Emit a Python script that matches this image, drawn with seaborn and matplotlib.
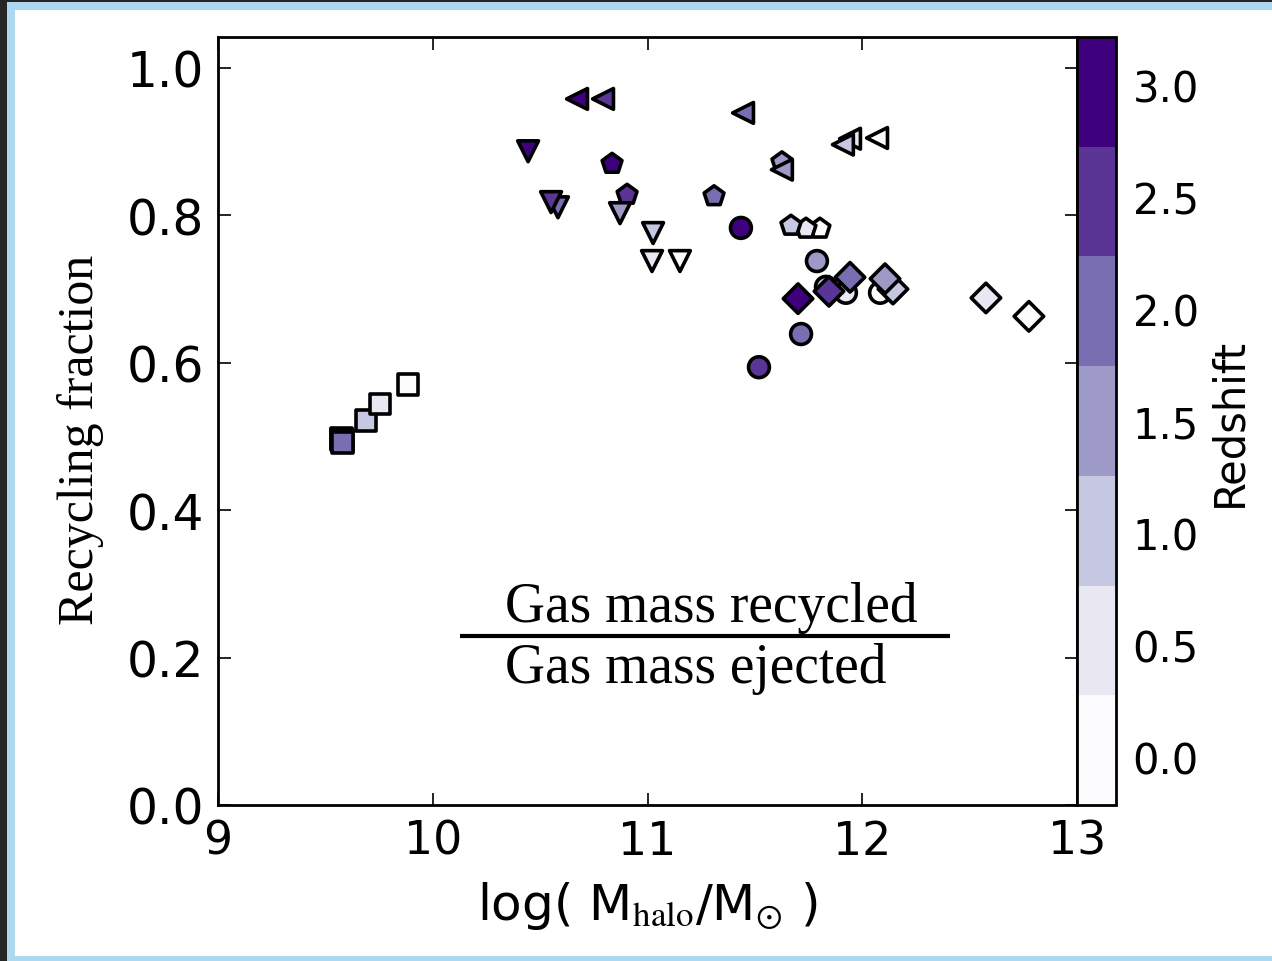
import numpy as np
import pandas as pd
import matplotlib
matplotlib.use("Agg")
import matplotlib.pyplot as plt
import seaborn as sns
from matplotlib.colors import Normalize
from matplotlib.cm import ScalarMappable
from matplotlib.patches import Rectangle

# ---------------- data (log halo mass, recycling fraction, redshift) ----------------
square_mass = [9.575, 9.575, 9.578, 9.578, 9.689, 9.754, 9.885]
square_frac = [0.497, 0.496, 0.494, 0.492, 0.522, 0.544, 0.570]
square_z    = [3.0, 2.5, 1.5, 2.0, 1.0, 0.5, 0.0]

circle_mass = [12.083, 11.924, 11.831, 11.789, 11.715, 11.519, 11.435]
circle_frac = [0.695, 0.695, 0.703, 0.738, 0.639, 0.594, 0.783]
circle_z    = [0.0, 0.5, 1.0, 1.5, 2.0, 2.5, 3.0]

pent_mass = [11.803, 11.738, 11.668, 11.626, 11.310, 10.905, 10.835]
pent_frac = [0.782, 0.782, 0.786, 0.872, 0.826, 0.828, 0.870]
pent_z    = [0.0, 0.5, 1.0, 1.5, 2.0, 2.5, 3.0]

down_mass = [11.151, 11.021, 11.026, 10.872, 10.583, 10.551, 10.444]
down_frac = [0.738, 0.738, 0.776, 0.803, 0.811, 0.818, 0.887]
down_z    = [0.0, 0.5, 1.0, 1.5, 2.0, 2.5, 3.0]

left_mass = [12.069, 11.943, 11.910, 11.626, 11.445, 10.793, 10.672]
left_frac = [0.905, 0.904, 0.896, 0.862, 0.939, 0.958, 0.958]
left_z    = [0.0, 0.5, 1.0, 1.5, 2.0, 2.5, 3.0]

diam_mass = [12.776, 12.576, 12.143, 12.106, 11.943, 11.845, 11.701]
diam_frac = [0.663, 0.688, 0.700, 0.714, 0.716, 0.697, 0.687]
diam_z    = [0.0, 0.5, 1.0, 1.5, 2.0, 2.5, 3.0]

cbar_ticks = [0.0, 0.5, 1.0, 1.5, 2.0, 2.5, 3.0]
x_ticks = [9, 10, 11, 12, 13]
y_ticks = [0.0, 0.2, 0.4, 0.6, 0.8, 1.0]

groups = [
    ("s", square_mass, square_frac, square_z),
    ("o", circle_mass, circle_frac, circle_z),
    ("p", pent_mass, pent_frac, pent_z),
    ("v", down_mass, down_frac, down_z),
    ("<", left_mass, left_frac, left_z),
    ("D", diam_mass, diam_frac, diam_z),
]

# ---------------- style ----------------
sns.set_theme(style="ticks")
plt.rcParams["font.family"] = ["DejaVu Sans"]
plt.rcParams["mathtext.fontset"] = "stix"
plt.rcParams["text.color"] = "black"
plt.rcParams["axes.labelcolor"] = "black"
plt.rcParams["xtick.color"] = "black"
plt.rcParams["ytick.color"] = "black"

W, H = 1272, 962
fig = plt.figure(figsize=(W / 100, H / 100), dpi=100)
fig.patch.set_facecolor("#262626")
# screenshot-like frame
fig.patches.append(Rectangle((7 / W, 0), 1, 1 - 3 / H, transform=fig.transFigure,
                             facecolor="#aed8f0", edgecolor="none", zorder=-10))
fig.patches.append(Rectangle((15 / W, 5 / H), 1, 1 - 16 / H, transform=fig.transFigure,
                             facecolor="white", edgecolor="none", zorder=-9))

ax_l, ax_b, ax_w, ax_h = 218 / W, 1 - 806 / H, (1077 - 218) / W, (806 - 38) / H
ax = fig.add_axes([ax_l, ax_b, ax_w, ax_h])
cax = fig.add_axes([1077 / W, ax_b, (1116 - 1077) / W, ax_h])

cmap = plt.get_cmap("Purples", 7)
norm = Normalize(vmin=-0.214, vmax=3.214)

for marker, xs, ys, zs in groups:
    df = pd.DataFrame({"mass": xs, "frac": ys, "z": zs})
    sns.scatterplot(data=df, x="mass", y="frac", hue="z", palette=cmap, hue_norm=norm,
                    marker=marker, s=225, edgecolor="black", linewidth=2.6,
                    legend=False, ax=ax, zorder=3)

ax.set_xlim(9, 13)
ax.set_ylim(0, 1.042)
ax.set_xticks(x_ticks)
ax.set_xticklabels([str(t) for t in x_ticks])
ax.set_yticks(y_ticks)
ax.set_yticklabels([f"{t:.1f}" for t in y_ticks])
ax.tick_params(direction="in", length=9, width=1.2, top=True, right=True,
               pad=10, colors="black")
ax.tick_params(axis="x", labelsize=33)
ax.tick_params(axis="y", labelsize=35)
for sp in ax.spines.values():
    sp.set_linewidth(2)
    sp.set_color("black")

ax.set_xlabel(r"log( M$_{\mathrm{halo}}$/M$_{\odot}$ )", fontsize=36)
ax.xaxis.set_label_coords(0.5, (806 - 880) / 768)
ax.set_ylabel("Recycling fraction", fontsize=36, family="Liberation Serif")
ax.yaxis.set_label_coords((104 - 218) / 859, (806 - 440) / 768)

# fraction annotation
ax.text(10.336, 0.2497, "Gas mass recycled", fontsize=40, family="Liberation Serif",
        ha="left", va="baseline", color="black")
ax.text(10.336, 0.167, "Gas mass ejected", fontsize=40, family="Liberation Serif",
        ha="left", va="baseline", color="black")
ax.plot([10.127, 12.409], [0.229, 0.229], color="black", lw=3, solid_capstyle="butt")

# colorbar
sm = ScalarMappable(norm=norm, cmap=cmap)
cb = fig.colorbar(sm, cax=cax, ticks=cbar_ticks)
cb.outline.set_linewidth(2)
cb.outline.set_edgecolor("black")
cb.ax.tick_params(direction="in", length=9, width=1.2, labelsize=30, pad=12, right=True,
                  left=False, colors="black")
cb.ax.set_yticklabels([f"{t:.1f}" for t in cbar_ticks])
cb.set_label("Redshift", fontsize=30, color="black")
cb.ax.yaxis.set_label_coords(1 + (1208 - 1116) / 39, 0.5)

fig.savefig("out.png", dpi=100, facecolor=fig.get_facecolor())
